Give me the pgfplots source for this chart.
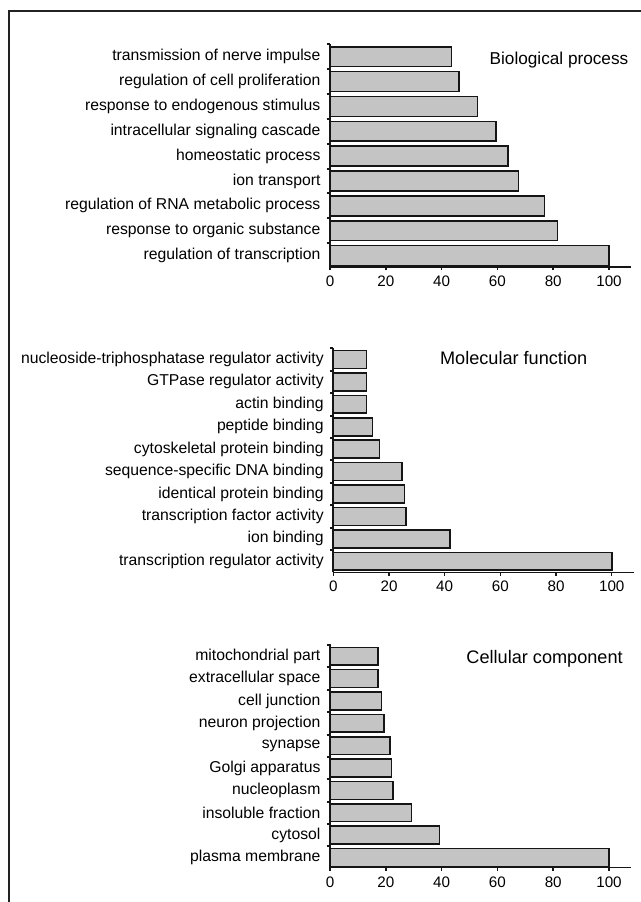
\documentclass[border=0pt]{standalone}
\usepackage{pgfplots}
\pgfplotsset{compat=1.18}
\usepackage{fontspec}
\setmainfont{Liberation Sans}
\definecolor{barfill}{HTML}{C4C4C4}
\definecolor{barline}{HTML}{151515}
\definecolor{framec}{HTML}{222222}
\pgfplotsset{
  gopanel/.style={
    anchor=south west, scale only axis,
    xbar, bar width=0.8,
    xmin=0, xmax=108,
    axis x line=bottom, axis y line=left,
    x axis line style={-, line width=0.9pt, color=barline},
    y axis line style={-, line width=1.6pt, color=barline},
    xtick={0,20,...,100},
    tick align=outside,
    major tick length=2.5pt,
    minor tick length=2.4pt,
    every tick/.style={line width=1.1pt, color=barline},
    y tick style={draw=none},
    minor y tick style={draw=barline, line width=1.5pt},
    /pgf/number format/assume math mode=true,
    xticklabel style={font=\fontsize{11.4pt}{13pt}\selectfont, inner sep=0pt, yshift=-3.8pt},
    yticklabel style={font=\fontsize{11.8pt}{13pt}\selectfont, inner sep=0pt, xshift=-4.5pt},
    clip=false,
  },
  gobars/.style={fill=barfill, draw=barline, line width=1.2pt},
}
\begin{document}
\begin{tikzpicture}
\useasboundingbox (0,0) rectangle (480.75pt,676.5pt);
\draw[framec, line width=1.5pt] (6.75pt,-5pt) -- (6.75pt,668.25pt) -- (490pt,668.25pt);

% Biological process
\begin{axis}[gopanel,
  at={(247.5pt,476.25pt)}, width=226pt, height=167.25pt,
  ymin=0.54, ymax=9.51,
  ytick={1,...,9},
  minor ytick={1.5,2.5,...,9.5},
  yticklabels={regulation of transcription, response to organic substance, regulation of RNA metabolic process, {ion transport\ }, homeostatic process, intracellular signaling cascade, response to endogenous stimulus, regulation of cell proliferation, transmission of nerve impulse},
]
\addplot[gobars] coordinates {(100,1) (81.5,2) (76.9,3) (67.6,4) (63.9,5) (59.4,6) (52.8,7) (46.2,8) (43.6,9)};
\node[anchor=east, inner sep=0pt, font=\fontsize{12.9pt}{15pt}\selectfont] at (axis cs:107,8.85) {Biological process};
\end{axis}

% Molecular function
\begin{axis}[gopanel,
  at={(250pt,247.3pt)}, width=225.5pt, height=168pt,
  ymin=0.51, ymax=10.5,
  ytick={1,...,10},
  minor ytick={1.5,2.5,...,10.5},
  yticklabels={transcription regulator activity, ion binding, transcription factor activity, identical protein binding, sequence-specific DNA binding, cytoskeletal protein binding, peptide binding, actin binding, GTPase regulator activity, nucleoside-triphosphatase regulator activity},
]
\addplot[gobars] coordinates {(100,1) (42.0,2) (26.2,3) (25.5,4) (24.6,5) (16.6,6) (14.0,7) (11.9,8) (11.9,9) (11.9,10)};
\node[anchor=east, inner sep=0pt, font=\fontsize{13.6pt}{15pt}\selectfont] at (axis cs:91.3,10.05) {Molecular function};
\end{axis}

% Cellular component
\begin{axis}[gopanel,
  at={(247.5pt,25.7pt)}, width=226pt, height=167.8pt,
  ymin=0.54, ymax=10.55,
  ytick={1,...,10},
  minor ytick={1.5,2.5,...,10.5},
  yticklabels={plasma membrane, cytosol, insoluble fraction, nucleoplasm, Golgi apparatus, synapse, neuron projection, cell junction, extracellular space, mitochondrial part},
]
\addplot[gobars] coordinates {(100,1) (39.3,2) (29.2,3) (22.6,4) (22.0,5) (21.4,6) (19.4,7) (18.4,8) (17.1,9) (17.1,10)};
\node[anchor=east, inner sep=0pt, font=\fontsize{13.6pt}{15pt}\selectfont] at (axis cs:105.0,9.9) {Cellular component};
\end{axis}
\end{tikzpicture}
\end{document}
